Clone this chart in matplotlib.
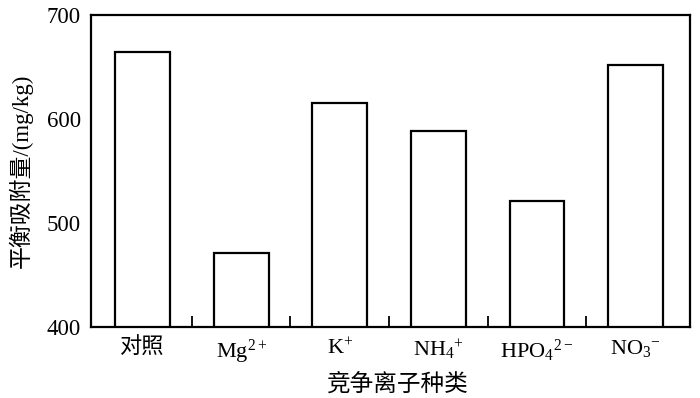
import matplotlib
matplotlib.use("Agg")
import matplotlib.pyplot as plt
import numpy as np

plt.rcParams['font.family'] = ['Liberation Serif', 'Noto Sans CJK SC']
plt.rcParams['mathtext.fontset'] = 'custom'
plt.rcParams['mathtext.rm'] = 'Liberation Serif'
plt.rcParams['mathtext.it'] = 'Liberation Serif:italic'
plt.rcParams['mathtext.bf'] = 'Liberation Serif:bold'

categories = ['对照', r'Mg$^{2+}$', r'K$^{+}$', r'NH$_4$$^{+}$', r'HPO$_4$$^{2-}$', r'NO$_3$$^{-}$']
values = [664.5, 471, 616, 589, 521, 652.5]
yticks = [400, 500, 600, 700]

fig = plt.figure(figsize=(7.0, 3.98), dpi=100)
ax = fig.add_axes([90.7/700, 1 - 327/398, (690 - 90.7)/700, (327 - 15.3)/398])

x = np.arange(len(categories))
ax.bar(x, values, width=0.555, bottom=0, color='white', edgecolor='black', linewidth=1.6)

ax.set_ylim(400, 700)
ax.set_xlim(-0.525, 5.55)
ax.set_yticks(yticks)
ax.set_yticklabels([str(v) for v in yticks], fontsize=16.5)
ax.tick_params(axis='y', length=0, pad=7)

ax.set_xticks(x)
ax.set_xticklabels(categories, fontsize=16)
ax.get_xticklabels()[0].set_fontweight('medium')
ax.tick_params(axis='x', which='major', length=0, pad=8)
ax.set_xticks(x[:-1] + 0.5, minor=True)
ax.tick_params(axis='x', which='minor', direction='in', length=8, width=1.3)

for s in ax.spines.values():
    s.set_linewidth(1.6)

ax.set_ylabel('平衡吸附量/(mg/kg)', fontsize=16.5, va='center')
ax.yaxis.set_label_coords(-0.117, 0.5)
ax.set_xlabel('竞争离子种类', fontsize=17, va='center')
ax.xaxis.set_label_coords(0.513, -0.183)

fig.savefig('out.png', dpi=100)
